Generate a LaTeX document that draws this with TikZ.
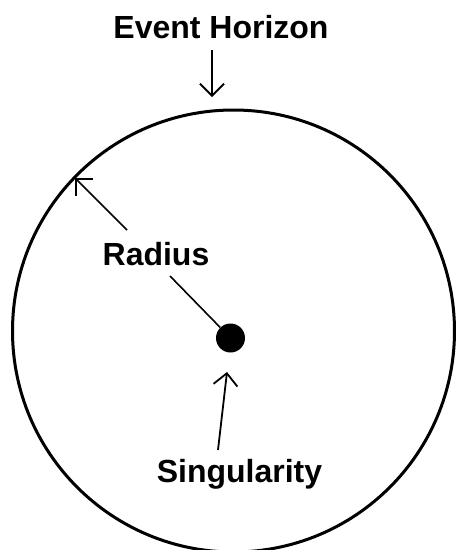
\documentclass[tikz,border=0pt]{standalone}
\usepackage{fontspec}
\setmainfont{Liberation Sans}
\usetikzlibrary{arrows.meta}
\begin{document}
\begin{tikzpicture}[x=1pt,y=-1pt,
  lbl/.style={font=\fontsize{32}{38}\selectfont\bfseries, inner sep=0pt, anchor=base},
  barb/.style={-{Straight Barb[length=12pt,width=24pt,line width=1.8pt]}, line width=1.8pt},
  thin line/.style={line width=1.6pt}]
\useasboundingbox[fill=white] (0,0) rectangle (458,550);
% event horizon circle
\coordinate (c) at (233.5,331);
\draw[line width=3pt] (c) circle[radius=221];
% singularity dot
\node[circle, fill=black, minimum size=29pt, inner sep=0pt] (dot) at (230.5,338) {};
% labels
\node[lbl] (eh) at (221,38) {Event Horizon};
\node[lbl] (rad) at (156,265) {Radius};
\node[lbl] (sing) at (239.5,482) {Singularity};
% connector end points
\coordinate (ehs) at (212,50);
\coordinate (ehe) at (212,97);
\coordinate (rs) at (127,230);
\coordinate (re) at (75,178);
\coordinate (rl) at (170,276);
\coordinate (ss) at (218,450);
\coordinate (se) at (227,372);
% connectors
\draw[barb] (ehs) -- (ehe);
\draw[barb, line width=1.6pt] (rs) -- (re);
\draw[thin line] (rl) -- (dot);
\draw[barb] (ss) -- (se);
\end{tikzpicture}
\end{document}
